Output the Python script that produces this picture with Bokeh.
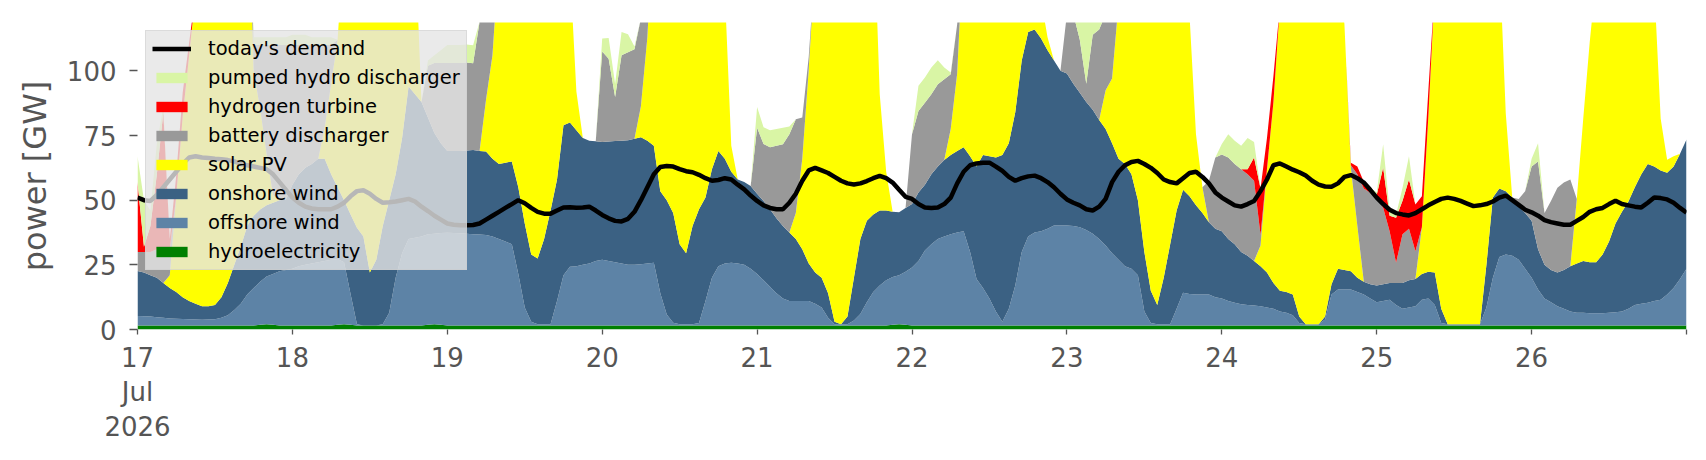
from bokeh.plotting import figure
from bokeh.models import ColumnDataSource, Range1d, FixedTicker, Legend, LegendItem
from bokeh.embed import file_html
from bokeh.resources import INLINE

# hours since 17 Jul 2026 00:00 (hourly, 10 days)
hours = list(range(241))

day_ticks = [0, 24, 48, 72, 96, 120, 144, 168, 192, 216, 240]
day_labels = ["17\nJul\n2026", "18", "19", "20", "21", "22", "23", "24", "25", "26", ""]
y_ticks = [0, 25, 50, 75, 100]

hydroelectricity = (
    [1.5] * 19 + [1.8, 2.0, 1.8, 1.5, 1.5]
    + [1.5] * 7 + [1.8, 2.0, 1.8] + [1.5] * 11 + [1.8, 2.0, 1.8]
    + [1.5] * 24 + [1.5] * 24
    + [1.5] * 21 + [1.8, 2.0, 1.8]
    + [1.5] * 24 + [1.5] * 24 + [1.5] * 24 + [1.5] * 24 + [1.5] * 24
    + [1.5]
)

offshore_wind = [
    3.7, 3.6, 3.5, 3.2, 3.0, 2.8, 2.7, 2.6, 2.5, 2.4, 2.3, 2.4, 2.5, 3.0, 4.0, 6.0, 8.5, 12.0, 14.5, 16.7, 18.5, 19.7, 21.0, 21.5,
    22.0, 23.0, 23.5, 24.0, 24.5, 25.0, 25.5, 25.5, 24.0, 12.0, 0.5, 0.0, 0.0, 0.0, 0.5, 5.0, 18.5, 28.0, 33.5, 34.0, 34.5, 35.0, 35.0, 35.5,
    35.9, 35.8, 35.7, 35.5, 35.3, 35.2, 35.0, 34.5, 33.5, 32.5, 31.5, 20.0, 7.0, 1.5, 0.5, 0.5, 0.5, 9.5, 19.5, 22.8, 23.0, 23.5, 24.0, 25.0,
    25.5, 25.0, 24.5, 24.0, 23.5, 23.5, 23.7, 24.0, 24.3, 12.5, 4.3, 1.1, 0.5, 0.5, 0.5, 1.0, 9.5, 18.5, 23.0, 24.0, 24.3, 24.0, 23.5, 22.0,
    20.0, 17.5, 15.0, 12.5, 10.5, 9.5, 9.5, 9.5, 9.5, 8.5, 7.0, 3.0, 0.5, 0.5, 0.5, 2.0, 4.5, 9.0, 13.0, 15.5, 17.5, 18.5, 19.0, 20.5,
    22.5, 25.0, 29.0, 31.5, 33.5, 34.5, 35.3, 36.0, 36.5, 28.5, 18.0, 14.5, 10.5, 5.5, 1.5, 6.5, 15.5, 28.5, 34.5, 36.0, 36.5, 37.5, 38.7, 38.7,
    38.7, 38.5, 38.0, 37.0, 35.5, 33.5, 31.0, 28.0, 25.5, 23.0, 22.0, 19.5, 5.5, 1.0, 0.5, 0.5, 0.5, 6.5, 12.7, 12.2, 12.0, 12.0, 12.0, 11.0,
    10.5, 9.5, 8.8, 8.3, 8.0, 7.8, 7.5, 7.0, 6.5, 5.5, 5.0, 4.0, 1.0, 0.5, 0.5, 0.5, 2.4, 12.0, 14.0, 14.0, 14.0, 13.0, 12.0, 10.5,
    9.0, 9.5, 10.0, 8.0, 6.5, 7.0, 7.5, 10.0, 10.5, 8.0, 1.0, 0.5, 0.5, 0.5, 0.5, 0.5, 0.5, 7.0, 18.5, 26.5, 27.5, 27.0, 25.5, 22.0,
    18.5, 14.0, 10.5, 9.0, 7.5, 6.5, 5.5, 5.0, 5.0, 4.8, 4.8, 4.8, 5.0, 5.2, 5.5, 6.5, 8.0, 8.5, 8.8, 9.5, 10.0, 12.0, 14.5, 18.0,
    22.0,
]

onshore_wind = [
    17.4, 16.9, 16.0, 15.3, 13.5, 11.7, 10.3, 8.4, 7.0, 6.1, 5.2, 5.1, 5.5, 8.0, 12.5, 17.5, 22.0, 26.5, 28.0, 27.9, 27.5, 27.5, 27.5, 27.3,
    32.5, 35.5, 37.5, 38.5, 40.0, 39.5, 33.0, 27.7, 24.0, 30.8, 37.3, 34.5, 20.5, 25.5, 38.0, 43.5, 40.0, 44.5, 59.0, 55.5, 52.0, 45.2, 39.0, 34.7,
    31.6, 31.7, 31.8, 32.2, 32.6, 32.3, 32.3, 30.0, 29.0, 30.5, 32.0, 33.5, 32.5, 26.0, 25.5, 33.0, 44.0, 47.0, 58.0, 55.7, 52.5, 49.0, 47.5, 46.3,
    45.5, 46.2, 46.9, 47.5, 48.2, 48.8, 49.1, 47.5, 45.2, 39.5, 44.2, 42.4, 31.0, 27.5, 38.0, 44.0, 40.0, 42.0, 44.5, 40.5, 35.2, 32.5, 32.0, 32.0,
    31.0, 30.7, 30.0, 29.0, 28.0, 26.5, 24.0, 20.0, 14.5, 12.0, 11.5, 9.5, 1.0, 0.0, 3.0, 16.5, 29.0, 31.5, 30.0, 29.0, 27.0, 25.2, 24.3, 24.7,
    24.5, 26.5, 25.5, 27.0, 28.0, 29.5, 30.7, 31.5, 32.5, 37.0, 43.5, 51.5, 55.0, 59.5, 64.5, 64.0, 67.0, 74.0, 79.0, 78.5, 74.5, 69.0, 63.8, 59.8,
    58.8, 55.0, 52.0, 49.5, 48.0, 46.0, 45.0, 42.5, 39.0, 39.5, 36.5, 29.0, 23.0, 12.5, 7.5, 18.0, 31.0, 38.0, 39.8, 37.8, 34.5, 31.5, 28.0, 26.5,
    26.0, 24.0, 22.7, 20.2, 19.0, 17.2, 15.5, 13.5, 10.0, 8.0, 8.0, 8.0, 2.5, 0.0, 0.0, 0.0, 1.1, 4.0, 8.0, 7.5, 7.0, 5.5, 5.0, 5.5,
    6.5, 6.5, 6.5, 8.5, 10.0, 10.5, 10.5, 10.0, 10.3, 12.5, 5.5, 0.0, 0.0, 0.0, 0.0, 0.0, 0.0, 16.5, 31.0, 26.5, 24.5, 22.5, 20.5, 21.5,
    22.0, 15.5, 13.0, 12.5, 13.0, 15.0, 17.5, 19.0, 20.0, 19.7, 19.7, 22.7, 27.5, 34.3, 38.5, 41.5, 45.5, 50.0, 53.7, 52.0, 50.0, 47.1, 47.0, 48.5,
    50.0,
]

solar_pv = [
    0, 0, 0, 0, 0, 5, 37, 70, 95, 120, 140, 145, 150, 150, 150, 150, 150, 150, 56, 39, 20, 3, 0, 0,
    0, 0, 0, 0, 0, 12, 35, 57, 100, 150, 150, 150, 150, 150, 150, 150, 140, 120, 90, 60, 0, 0, 0, 0,
    0, 0, 0, 0, 0, 0, 20, 40, 80, 110, 130, 140, 150, 150, 150, 150, 150, 150, 110, 60, 15, 0, 0, 0,
    0, 0, 0, 0, 0, 0, 12, 40, 90, 120, 150, 150, 150, 150, 150, 150, 150, 150, 130, 65, 10, 0, 0, 0,
    0, 0, 0, 0, 0, 0, 10, 35, 75, 120, 150, 150, 150, 150, 150, 150, 150, 150, 120, 45, 15, 0, 0, 0,
    0, 0, 0, 0, 0, 0, 10, 30, 80, 120, 120, 120, 120, 120, 120, 120, 110, 60, 25, 15, 15, 5, 0, 0,
    0, 0, 0, 0, 0, 0, 15, 25, 60, 90, 130, 130, 130, 130, 130, 130, 130, 130, 120, 70, 27.5, 10, 0, 0,
    0, 0, 0, 0, 0, 0, 8, 40, 70, 110, 125, 125, 125, 125, 125, 125, 125, 125, 120, 95, 40, 20, 0, 0,
    0, 0, 0, 0, 0, 0, 0, 18, 60, 110, 125, 125, 125, 125, 125, 125, 125, 125, 110, 90, 30, 0, 0, 0,
    0, 0, 0, 0, 0, 0, 0, 25, 55, 85, 110, 110, 110, 110, 110, 110, 110, 110, 100, 70, 20, 5, 4, 0,
    0,
]

battery_discharger = [
    7.4, 8, 9, 11, 13, 10, 0, 0, 0, 0, 0, 0, 0, 0, 0, 0, 0, 0, 10, 24.6, 42, 58, 60, 59.7,
    54, 50, 47.5, 46, 44, 32, 15, 0, 0, 0, 0, 0, 0, 0, 0, 0, 0, 0, 0, 0, 0, 20, 27, 31,
    34, 34, 34, 34, 33.5, 50, 32, 15, 0, 0, 0, 0, 0, 0, 0, 0, 0, 0, 0, 0, 0, 0, 0, 0,
    35, 32, 17, 33, 34, 34.6, 34, 7, 0, 0, 0, 0, 0, 0, 0, 0, 0, 0, 0, 0, 0, 0, 0, 0,
    25.5, 22, 24, 28, 31.6, 38, 36.3, 16, 5, 0, 0, 0, 0, 0, 0, 0, 0, 0, 0, 0, 0, 0, 0, 0,
    27, 31.5, 31.7, 31, 31.8, 31.3, 21.2, 19, 0, 0, 0, 0, 0, 0, 0, 0, 0, 0, 0, 0, 0, 0, 0, 0,
    23, 27, 20.5, 7, 29, 35, 29.5, 25, 0, 0, 0, 0, 0, 0, 0, 0, 0, 0, 0, 0, 0, 0, 16, 27.5,
    29.7, 31.5, 31, 32, 31.5, 31, 4, 0, 0, 0, 0, 0, 0, 0, 0, 0, 0, 0, 0, 0, 1, 20, 36, 35.4,
    34, 29.6, 20, 7.8, 18.8, 20, 10.8, 0, 0, 0, 0, 0, 0, 0, 0, 0, 0, 0, 0, 0, 0, 0, 3, 8.5,
    21, 34, 20, 26.7, 32.8, 33.8, 33.5, 0, 0, 0, 0, 0, 0, 0, 0, 0, 0, 0, 0, 0, 0, 0, 0, 0,
    0,
]

hydrogen_turbine = (
    [27, 2, 10, 29, 53, 4, 8, 9, 5] + [0] * 15
    + [0] * 24 + [0] * 24 + [0] * 24 + [0] * 24 + [0] * 24 + [0] * 24
    + [0] * 4 + [2, 9, 18, 12, 10] + [0] * 11 + [1, 3, 2.6, 2]
    + [1, 15.5, 6, 17.4, 13, 19, 18, 12, 10] + [0] * 15
    + [0] * 24
    + [0]
)

pumped_hydro_discharger = (
    [10, 18, 6, 12, 2] + [0] * 13 + [3, 3, 3, 3, 3, 3]
    + [4, 4, 4, 3, 3, 3, 3, 0] + [0] * 13 + [2, 3, 5]
    + [7, 7, 7, 7, 7] + [0] * 19
    + [5, 8, 5, 9, 7, 1] + [0] * 18
    + [8, 6.5, 6.5, 6.5, 6.4, 3] + [0] * 18
    + [0, 9.7, 9.7, 10.3, 9.3, 4.5, 0.7] + [0] * 17
    + [0, 0, 10, 25, 6, 5] + [0] * 18
    + [4, 9, 9, 9, 12, 6] + [0] * 18
    + [1, 9, 2, 1.3, 5, 9] + [0] * 18
    + [3, 7] + [0] * 22
    + [0]
)

todays_demand = [
    51, 50, 49.7, 52, 55, 58, 61, 64, 66.5, 67, 66.5, 66.3, 66, 65.8, 65.5, 65, 64, 63.5, 63, 62.5, 62, 60, 57, 54,
    51, 49, 47.5, 46.8, 46.5, 46.5, 46.5, 47.5, 49, 51.5, 53.5, 53.8, 52.5, 50.5, 49, 49.2, 49.5, 50, 50.5, 49.5, 47.5, 45.8, 44, 42.5,
    41, 40.5, 40.3, 40.3, 40.4, 41, 42.5, 44, 45.5, 47, 48.5, 50, 48.8, 47, 45.5, 44.8, 44.8, 46, 47.2, 47.3, 47.1, 47.2, 47.5, 46,
    44.3, 43, 42, 41.8, 42.8, 45.5, 50, 55, 60, 62.8, 63.2, 63, 62, 61.2, 60.8, 59.8, 58.5, 57.5, 57.8, 58.5, 58, 56, 54.2, 51.8,
    49.7, 48, 47, 46.5, 46.5, 49, 52.5, 57.5, 61.5, 62.5, 61.5, 60.5, 59, 57.5, 56.5, 56.1, 56.5, 57.4, 58.5, 59.4, 58.5, 56.8, 54, 51.3,
    50.5, 48.5, 47.2, 47, 47.2, 48.5, 51, 56.5, 61, 63.5, 64.2, 64.5, 64.5, 63, 61.3, 59, 57.5, 58.5, 59.2, 59.5, 58.5, 57, 55, 52.5,
    50.3, 49, 48, 46.5, 46, 47.5, 50.5, 57, 61, 63.5, 64.8, 65.2, 64, 62.5, 60.5, 58, 57, 56.5, 58.5, 60.5, 61, 59, 56.5, 53,
    51, 49.5, 48, 47.5, 48.5, 49.7, 53.5, 58, 63.5, 64.2, 63, 61.8, 60.8, 59.5, 57.5, 56, 55.3, 55.2, 56.5, 59, 59.7, 58.5, 56.8, 54,
    51, 48.5, 46.3, 45, 44.5, 44.1, 45, 46.5, 48, 49.3, 50.5, 51, 50.5, 49.7, 48.7, 47.7, 48, 48.5, 49.5, 51, 51.8, 50, 48.2, 46.3,
    45.3, 44, 42.3, 41.5, 41, 40.5, 40.5, 42, 43.5, 45.5, 46.5, 47, 48.5, 49.8, 48.5, 48, 47.5, 47.2, 49, 51, 50.8, 50.3, 49, 47,
    45.2,
]

stack_names = ["hydroelectricity", "offshore wind", "onshore wind", "solar PV",
               "battery discharger", "hydrogen turbine", "pumped hydro discharger"]
stack_colors = ["#008000", "#5d83a6", "#3b6183", "#ffff00", "#999999", "#ff0000", "#d9f5a5"]

source = ColumnDataSource(data={
    "hour": hours,
    "hydroelectricity": hydroelectricity,
    "offshore wind": offshore_wind,
    "onshore wind": onshore_wind,
    "solar PV": solar_pv,
    "battery discharger": battery_discharger,
    "hydrogen turbine": hydrogen_turbine,
    "pumped hydro discharger": pumped_hydro_discharger,
    "demand": todays_demand,
})

p = figure(width=1700, height=452, output_backend="svg", toolbar_location=None,
           x_range=Range1d(0, 240), y_range=Range1d(0, 118.7),
           min_border_left=137, min_border_right=14, min_border_top=22, min_border_bottom=123)
p.background_fill_color = "white"
p.border_fill_color = "white"
p.outline_line_color = None
p.xgrid.grid_line_color = None
p.ygrid.grid_line_color = None

areas = p.varea_stack(stackers=stack_names, x="hour", color=stack_colors, source=source)
demand_line = p.line("hour", "demand", source=source, line_color="black", line_width=4.5)

FONT = "DejaVu Sans"
GREY = "#555555"

p.xaxis.ticker = FixedTicker(ticks=day_ticks)
p.xaxis.major_label_overrides = {t: lab for t, lab in zip(day_ticks, day_labels)}
p.yaxis.ticker = FixedTicker(ticks=y_ticks)
for ax in (p.xaxis, p.yaxis):
    ax.axis_line_color = None
    ax.major_tick_line_color = GREY
    ax.major_tick_line_width = 1.3
    ax.major_tick_in = 0
    ax.minor_tick_line_color = None
    ax.major_label_text_font = FONT
    ax.major_label_text_font_size = "26px"
    ax.major_label_text_color = GREY
p.xaxis.major_tick_out = 5
p.xaxis.major_label_standoff = 8
p.xaxis.major_label_text_line_height = 1.15
p.yaxis.major_tick_out = 8
p.yaxis.major_label_standoff = 13
p.yaxis.axis_label = "power [GW]"
p.yaxis.axis_label_text_font = FONT
p.yaxis.axis_label_text_font_size = "32px"
p.yaxis.axis_label_text_font_style = "normal"
p.yaxis.axis_label_text_color = GREY
p.yaxis.axis_label_standoff = 10

order = [6, 5, 4, 3, 2, 1, 0]
items = [LegendItem(label="today's demand", renderers=[demand_line])]
items += [LegendItem(label=stack_names[i], renderers=[areas[i]]) for i in order]
legend = Legend(items=items, location="top_left")
legend.label_text_font = FONT
legend.label_text_font_size = "19.5px"
legend.label_text_color = "black"
legend.background_fill_color = "#e5e5e5"
legend.background_fill_alpha = 0.8
legend.border_line_color = "#cccccc"
legend.border_line_width = 1
legend.glyph_width = 39
legend.glyph_height = 13
legend.label_height = 23
legend.label_standoff = 17
legend.spacing = 6
legend.padding = 6
legend.margin = 8
p.add_layout(legend)

open("out.html", "w").write(file_html(p, INLINE))
